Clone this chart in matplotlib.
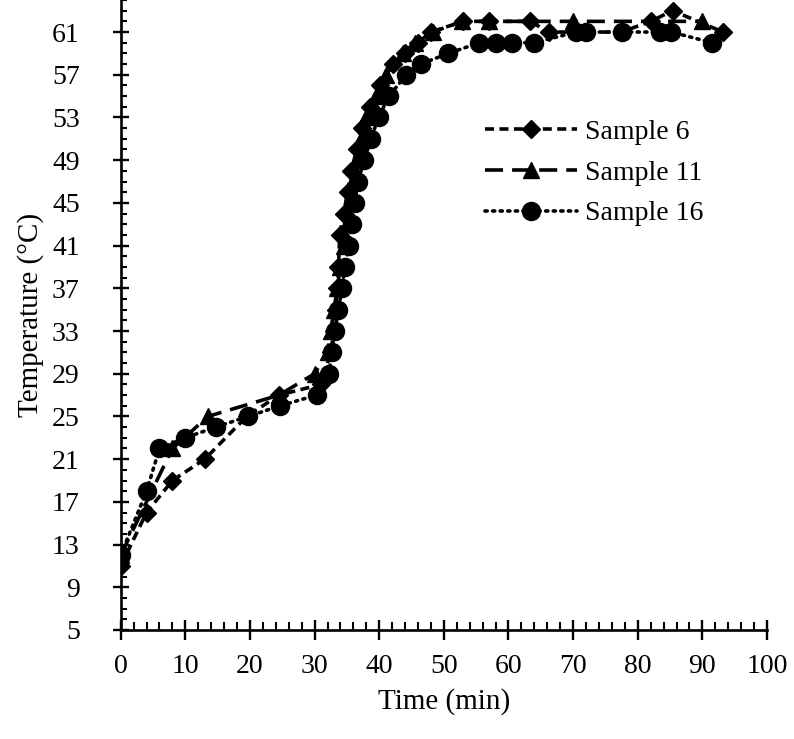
import numpy as np
import matplotlib.pyplot as plt
from matplotlib.ticker import MultipleLocator

# Sample 6 (diamonds, dashed)
t6 = [0, 4, 8, 13, 19.5, 24.5, 31, 32.5, 33, 33.3, 33.5, 33.7, 33.9, 34.5, 35.1, 35.7,
      36.5, 37.3, 38.5, 40.1, 42.1, 44, 46, 48, 53, 57, 63.3, 66.3, 72, 77.5, 82, 85.4, 93.2]
T6 = [11, 16, 19, 21, 25, 27, 28, 31, 33, 35, 37, 39, 42, 44, 46, 48,
      50, 52, 54, 56, 58, 59, 60, 61, 62, 62, 62, 61, 61, 61, 62, 63, 61]

# Sample 11 (triangles, long dash)
t11 = [0, 8, 13.5, 24.5, 30, 32, 32.5, 33, 33.5, 34, 34.5, 35, 35.5, 36, 36.5, 37.2,
       38, 39.5, 41, 43.7, 45.5, 48.3, 52.8, 57, 70, 90]
T11 = [12, 22, 25, 27, 29, 31, 33, 35, 37, 39, 41, 43, 45, 47, 49, 51,
       53, 55, 57, 59, 60, 61, 62, 62, 62, 62]

# Sample 16 (circles, dotted)
t16 = [0, 4, 6, 10, 14.7, 19.7, 24.7, 30.3, 32.2, 32.7, 33.1, 33.7, 34.2, 34.7, 35.3,
       35.8, 36.2, 36.7, 37.7, 38.7, 39.9, 41.5, 44.2, 46.4, 50.7, 55.5, 58, 60.5, 64,
       70.5, 72, 77.5, 83.4, 85.2, 91.5]
T16 = [12, 18, 22, 23, 24, 25, 26, 27, 29, 31, 33, 35, 37, 39, 41,
       43, 45, 47, 49, 51, 53, 55, 57, 58, 59, 60, 60, 60, 60,
       61, 61, 61, 61, 61, 60]

plt.rcParams['font.family'] = ['Liberation Serif', 'DejaVu Serif']

fig = plt.figure(figsize=(7.94, 7.39), dpi=100)
ax = fig.add_axes([0.152, 0.1475, 0.814, 0.8525])

lw = 2.6
ax.plot(t6, T6, color='black', lw=lw, linestyle=(0, (2.5, 1.5)), marker='D', ms=9,
        label='Sample 6')
ax.plot(t11, T11, color='black', lw=lw, linestyle=(0, (5, 2.5)), marker='^', ms=11,
        label='Sample 11')
ax.plot(t16, T16, color='black', lw=lw, linestyle=(0, (0.6, 1.5)), marker='o', ms=13,
        dash_capstyle='round', label='Sample 16')

ax.set_xlim(0, 100)
ax.set_ylim(5, 64)
ax.xaxis.set_major_locator(MultipleLocator(10))
ax.xaxis.set_minor_locator(MultipleLocator(2))
ax.set_yticks(np.arange(5, 62, 4))
ax.yaxis.set_minor_locator(MultipleLocator(1))

for s in ['top', 'right']:
    ax.spines[s].set_visible(False)
for s in ['left', 'bottom']:
    ax.spines[s].set_linewidth(1.9)

ax.tick_params(axis='x', which='major', direction='inout', length=15, width=1.7,
               labelsize=20, pad=10)
ax.tick_params(axis='x', which='minor', direction='in', length=6, width=1.5)
ax.tick_params(axis='y', which='major', direction='inout', length=11, width=1.7,
               labelsize=20, pad=24)
ax.tick_params(axis='y', which='minor', direction='in', length=4.5, width=1.5)

ax.set_xlabel('Time (min)', fontsize=21, labelpad=6)
ax.set_ylabel('Temperature (°C)', fontsize=21, labelpad=6)

ax.legend(loc='upper left', bbox_to_anchor=(0.525, 0.85), frameon=False, fontsize=20,
          handlelength=3.3, handletextpad=0.3, labelspacing=0.55)

fig.savefig('out.png', dpi=100)
